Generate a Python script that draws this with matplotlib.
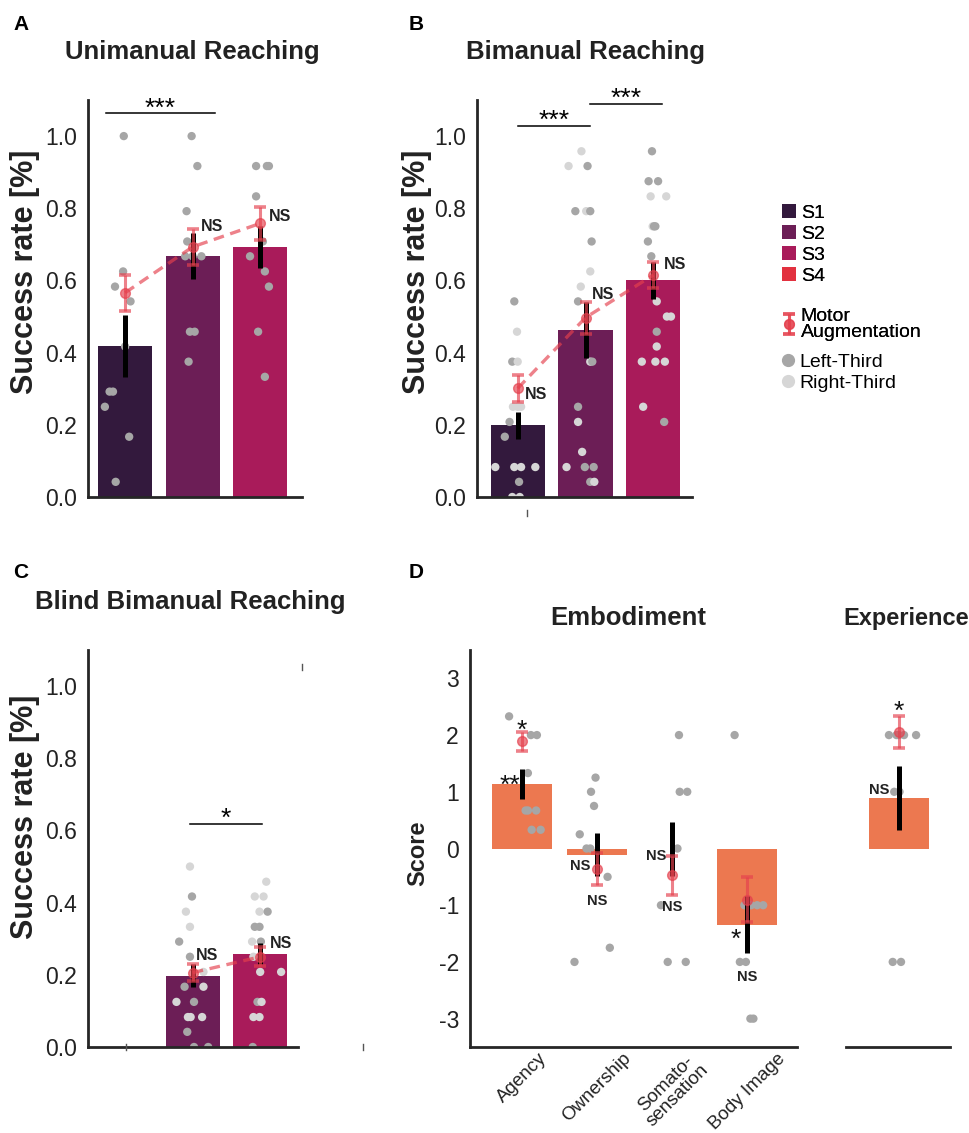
import matplotlib
matplotlib.use("Agg")
import matplotlib.pyplot as plt
from matplotlib.lines import Line2D
from matplotlib.patches import Patch
import numpy as np

plt.rcParams['font.family'] = ['Liberation Sans', 'DejaVu Sans']
plt.rcParams['axes.unicode_minus'] = False

W, H = 969, 1133

# ---- data -------------------------------------------------------------
sessions = ["S1", "S2", "S3", "S4"]
session_colors = ["#33193d", "#6c1e56", "#a91b5a", "#e2313f"]

# A: unimanual reaching (success rate per participant)
a_means = [0.418, 0.668, 0.693]
a_sems = [0.086, 0.064, 0.058]
a_ma_means = [0.566, 0.693, 0.758]
a_ma_sems = [0.050, 0.050, 0.046]
a_s1 = [1.0, 0.625, 0.583, 0.542, 0.417, 0.292, 0.292, 0.25, 0.167, 0.042]
a_s2 = [1.0, 0.917, 0.792, 0.708, 0.667, 0.667, 0.667, 0.458, 0.458, 0.375]
a_s3 = [0.917, 0.917, 0.917, 0.833, 0.708, 0.667, 0.625, 0.583, 0.458, 0.333]
a_side = ["LLLLLLLLLL", "LLLLLLLLLL", "LLLLLLLLLL"]

# B: bimanual reaching
b_means = [0.199, 0.463, 0.601]
b_sems = [0.037, 0.077, 0.051]
b_ma_means = [0.301, 0.497, 0.615]
b_ma_sems = [0.037, 0.044, 0.037]
b_s1 = [0.542, 0.458, 0.375, 0.375, 0.25, 0.25, 0.25, 0.208, 0.167,
        0.083, 0.083, 0.083, 0.083, 0.042, 0.0, 0.0]
b_s2 = [0.958, 0.917, 0.917, 0.792, 0.792, 0.792, 0.708, 0.625, 0.583, 0.542,
        0.375, 0.375, 0.25, 0.208, 0.125, 0.083, 0.083, 0.083, 0.042, 0.042]
b_s3 = [0.958, 0.875, 0.875, 0.833, 0.833, 0.75, 0.75, 0.75, 0.708, 0.667,
        0.542, 0.5, 0.5, 0.458, 0.417, 0.375, 0.375, 0.375, 0.25, 0.208]
b_side = ["LRLRRRRLLRRRRLRR", "RRLLRLLRRLRLLRRRLLLR", "LLLRRRLLLLRRRLRRRRRL"]

# C: blind bimanual reaching (no S1 data)
c_means = [0.198, 0.258]
c_sems = [0.031, 0.029]
c_ma_means = [0.206, 0.250]
c_ma_sems = [0.023, 0.026]
c_s2 = [0.5, 0.417, 0.375, 0.333, 0.292, 0.25, 0.208, 0.167, 0.167, 0.125,
        0.125, 0.083, 0.083, 0.083, 0.042, 0.0, 0.0]
c_s3 = [0.458, 0.417, 0.417, 0.375, 0.375, 0.333, 0.333, 0.292, 0.292, 0.25,
        0.208, 0.208, 0.125, 0.125, 0.083, 0.083, 0.0]
c_side = ["RLRRLLRLRRLRRRLLL", "RRRRLLLRLRRRLRRRL"]

# D: questionnaire scores
d_labels = ["Agency", "Ownership", "Somato-\nsensation", "Body Image"]
d_means = [1.138, -0.11, -0.01, -1.345]
d_sems = [0.26, 0.38, 0.47, 0.50]
d_ma_means = [1.889, -0.36, -0.475, -0.90]
d_ma_sems = [0.17, 0.28, 0.34, 0.39]
d_agency = [2.33, 2.0, 2.0, 1.33, 0.67, 0.67, 0.67, 0.33, 0.33]
d_owner = [1.25, 1.0, 0.75, 0.25, 0.0, 0.0, -0.5, -1.75, -2.0]
d_somato = [2.0, 1.0, 1.0, 0.0, -1.0, -2.0, -2.0]
d_body = [2.0, -1.0, -1.0, -1.0, -1.0, -2.0, -2.0, -3.0, -3.0]
e_mean = [0.886]
e_sem = [0.56]
e_ma_mean = [2.05]
e_ma_sem = [0.28]
e_exp = [2.0, 2.0, 2.0, 2.0, 2.0, 1.0, 1.0, -2.0, -2.0]

# ---- styling / layout ---------------------------------------------------
LEFT_C = "#a6a6a6"
RIGHT_C = "#d6d6d6"
MA_C = "#e5404d"
MA_ALPHA = 0.66
BAR_D = "#ec7850"
SPINE_C = "#262626"
STAR_SIZE = 19

# horizontal jitter of the dots
ja = [[-0.02, -0.03, -0.15, 0.08, 0.0, -0.23, -0.18, -0.30, 0.06, -0.14],
      [-0.015, 0.07, -0.09, -0.08, -0.11, 0.13, 0.0, -0.04, 0.03, -0.06],
      [-0.06, 0.13, 0.10, -0.06, 0.04, -0.15, 0.07, 0.13, -0.03, 0.07]]
jb = [[-0.05, -0.01, -0.08, 0.0, -0.07, 0.0, 0.05, -0.12, -0.19, -0.33, -0.05,
       0.05, 0.26, 0.02, -0.08, 0.03],
      [-0.06, -0.25, 0.03, -0.15, 0.01, 0.07, 0.09, 0.07, -0.07, -0.11, 0.07,
       0.1, -0.11, -0.11, -0.05, -0.28, -0.01, 0.12, 0.07, 0.13],
      [-0.02, -0.07, 0.07, -0.04, 0.19, -0.01, 0.01, 0.03, -0.08, -0.03, 0.05,
       0.2, 0.26, 0.05, 0.05, -0.17, 0.03, 0.17, -0.15, 0.16]]
jc = [[-0.04, -0.01, -0.10, -0.04, -0.20, -0.04, 0.16, -0.12, 0.16, -0.24,
       0.02, -0.07, -0.03, 0.14, -0.08, 0.02, 0.23],
      [0.09, -0.08, 0.05, -0.01, 0.11, -0.08, -0.01, -0.12, 0.01, -0.10, 0.0,
       0.31, -0.04, 0.02, -0.10, -0.01, -0.11]]
jd = [[-0.17, 0.12, 0.2, 0.08, 0.05, 0.08, 0.19, 0.13, 0.25],
      [-0.02, -0.08, -0.04, -0.23, -0.14, -0.09, 0.14, 0.17, -0.3],
      [0.09, 0.1, 0.2, 0.07, -0.15, -0.06, 0.18],
      [-0.17, -0.04, 0.05, 0.13, 0.21, -0.1, -0.02, 0.04, 0.08]]
je = [-0.13, 0.07, 0.23, 0.0, -0.03, -0.06, 0.01, -0.08, 0.03]


def fx(x):
    return x / W


def fy(y):
    return 1 - y / H


def px_axes(fig, left, top, right, bottom):
    return fig.add_axes([left / W, 1 - bottom / H, (right - left) / W, (bottom - top) / H])


def style_axes(ax, left=True, pad=8):
    for s in ["top", "right"]:
        ax.spines[s].set_visible(False)
    ax.spines["bottom"].set_linewidth(2.0)
    ax.spines["bottom"].set_color(SPINE_C)
    if left:
        ax.spines["left"].set_linewidth(2.0)
        ax.spines["left"].set_color(SPINE_C)
    else:
        ax.spines["left"].set_visible(False)
    ax.tick_params(axis="both", length=0, labelsize=16.5, pad=pad, colors="#222222")


def star_text(ax, x, y, label, ha="center"):
    # y is where the middle of the asterisk glyph should sit
    ax.annotate(label, (x, y), xytext=(0, -0.58 * STAR_SIZE), textcoords="offset points",
                ha=ha, va="baseline", fontsize=STAR_SIZE, color="#111111", zorder=7)


def draw_dots(ax, pos, vals, jit, side):
    cols = [LEFT_C if s == "L" else RIGHT_C for s in side]
    ax.scatter(pos + np.array(jit), vals, s=36, c=cols, linewidths=0, zorder=2)


def draw_ma(ax, pos, means, sems, dashed=True):
    if dashed:
        ax.plot(pos, means, ls="--", color=MA_C, alpha=MA_ALPHA, lw=2.4,
                dashes=(3.2, 2), zorder=4)
    cont = ax.errorbar(pos, means, yerr=sems, fmt="o", color=MA_C, ms=7,
                       elinewidth=2.2, capsize=4.5, capthick=2.6,
                       alpha=MA_ALPHA, zorder=5, label="Motor\nAugmentation")
    return cont


def success_panel(ax, pos, means, sems, ma_means, ma_sems, groups, sides, jitters, colors):
    pos = np.array(pos, dtype=float)
    ax.bar(pos, means, width=0.8, color=colors, zorder=1)
    for p, vals, side, jit in zip(pos, groups, sides, jitters):
        draw_dots(ax, p, vals, jit, side)
    ax.errorbar(pos, means, yerr=sems, fmt="none", ecolor="black",
                elinewidth=3.6, capsize=0, zorder=3)
    cont = draw_ma(ax, pos, ma_means, ma_sems)
    ax.set_ylim(0, 1.1)
    ax.set_yticks(np.arange(0, 1.01, 0.2))
    ax.set_yticklabels([f"{v:.1f}" for v in np.arange(0, 1.01, 0.2)])
    ax.set_xticks([])
    style_axes(ax, pad=8)
    return cont


def sig_bar(ax, x0, x1, y, label):
    ax.plot([x0, x1], [y, y], color="black", lw=1.1, zorder=6)
    ax.annotate(label, ((x0 + x1) / 2, y), xytext=(0, -1.5), textcoords="offset points",
                ha="center", va="baseline", fontsize=STAR_SIZE, zorder=6)


def ns_label(ax, x, y, label="NS", ha="left", size=11.5):
    ax.text(x, y, label, ha=ha, va="center", fontsize=size,
            fontweight="bold", color="#222222", zorder=7)


fig = plt.figure(figsize=(W / 100, H / 100), dpi=100)

# ---- A ------------------------------------------------------------------
axA = px_axes(fig, 88, 100, 302, 497)
success_panel(axA, [0, 1, 2], a_means, a_sems, a_ma_means, a_ma_sems,
              [a_s1, a_s2, a_s3], a_side, ja, session_colors[:3])
axA.set_xlim(-0.55, 2.62)
sig_bar(axA, -0.28, 1.33, 1.063, "***")
ns_label(axA, 1.12, 0.749)
ns_label(axA, 2.13, 0.776)

# ---- B ------------------------------------------------------------------
axB = px_axes(fig, 477, 100, 692, 497)
ma_handle = success_panel(axB, [0, 1, 2], b_means, b_sems, b_ma_means, b_ma_sems,
                          [b_s1, b_s2, b_s3], b_side, jb, session_colors[:3])
axB.set_xlim(-0.6, 2.57)
sig_bar(axB, 0.0, 1.07, 1.029, "***")
sig_bar(axB, 1.07, 2.13, 1.09, "***")
ns_label(axB, 0.10, 0.285)
ns_label(axB, 1.10, 0.561)
ns_label(axB, 2.15, 0.643)

# ---- C ------------------------------------------------------------------
axC = px_axes(fig, 88, 650, 298, 1047)
success_panel(axC, [1, 2], c_means, c_sems, c_ma_means, c_ma_sems,
              [c_s2, c_s3], c_side, jc, session_colors[1:3])
axC.set_xlim(-0.55, 2.56)
sig_bar(axC, 0.96, 2.03, 0.618, "*")
ns_label(axC, 1.05, 0.253)
ns_label(axC, 2.14, 0.287)

# ---- D ------------------------------------------------------------------
axD = px_axes(fig, 470, 650, 797, 1047)
dpos = np.arange(len(d_means))
axD.bar(dpos, d_means, width=0.8, color=BAR_D, zorder=1)
for p, vals, jit in zip(dpos, [d_agency, d_owner, d_somato, d_body], jd):
    draw_dots(axD, p, vals, jit, "L" * len(vals))
axD.errorbar(dpos, d_means, yerr=d_sems, fmt="none", ecolor="black",
             elinewidth=3.6, capsize=0, zorder=3)
draw_ma(axD, dpos, d_ma_means, d_ma_sems, dashed=False)
axD.set_ylim(-3.5, 3.5)
axD.set_xlim(-0.69, 3.66)
axD.set_yticks(range(-3, 4))
axD.set_xticks(dpos)
axD.set_xticklabels(d_labels, rotation=45, ha="center", fontsize=13.5)
for t in axD.get_xticklabels():
    t.set_linespacing(0.95)
style_axes(axD, pad=8)
axD.tick_params(axis="x", labelsize=13.5, pad=2)

# stars and NS marks on D (bar index, x shift, y, ha)
d_stars = [(0, 0.0, 2.22, "center", "*"),
           (0, -0.02, 1.245, "right", "**"),
           (3, -0.16, -1.47, "center", "*")]
for b, dx, y, ha, lab in d_stars:
    star_text(axD, dpos[b] + dx, y, lab, ha=ha)
d_ns = [(1, -0.09, -0.31, "right"), (1, 0.0, -0.93, "center"),
        (2, -0.08, -0.135, "right"), (2, 0.0, -1.04, "center"),
        (3, 0.0, -2.27, "center")]
for b, dx, y, ha in d_ns:
    ns_label(axD, dpos[b] + dx, y, ha=ha, size=10.5)

# ---- Experience ---------------------------------------------------------
axE = px_axes(fig, 846, 650, 950, 1047)
axE.bar([0], e_mean, width=0.8, color=BAR_D, zorder=1)
draw_dots(axE, 0, e_exp, je, "L" * len(e_exp))
axE.errorbar([0], e_mean, yerr=e_sem, fmt="none", ecolor="black",
             elinewidth=3.6, capsize=0, zorder=3)
draw_ma(axE, [0], e_ma_mean, e_ma_sem, dashed=False)
axE.set_ylim(-3.5, 3.5)
axE.set_xlim(-0.7, 0.68)
axE.set_xticks([])
axE.set_yticks([])
style_axes(axE, left=False)
star_text(axE, 0, 2.56, "*")
ns_label(axE, -0.12, 1.03, ha="right", size=10.5)

# ---- titles, labels, panel letters -------------------------------------
title_kw = dict(ha="center", va="center", fontsize=18.5, fontweight="bold", color="#222222")
fig.text(fx(192), fy(52), "Unimanual Reaching", **title_kw)
fig.text(fx(585), fy(52), "Bimanual Reaching", **title_kw)
fig.text(fx(190), fy(602), "Blind Bimanual Reaching", **title_kw)
fig.text(fx(628), fy(618), "Embodiment", **title_kw)
fig.text(fx(906), fy(618), "Experience", ha="center", va="center", fontsize=17,
         fontweight="bold", color="#222222")

ylab_kw = dict(rotation=90, ha="center", va="center", fontsize=22, fontweight="bold", color="#222222")
fig.text(fx(25), fy(272), "Success rate [%]", **ylab_kw)
fig.text(fx(417), fy(272), "Success rate [%]", **ylab_kw)
fig.text(fx(25), fy(817), "Success rate [%]", **ylab_kw)
fig.text(fx(418), fy(853), "Score", rotation=90, ha="center", va="center",
         fontsize=17, fontweight="bold", color="#222222")

letter_kw = dict(ha="center", va="center", fontsize=15, fontweight="bold")
fig.text(fx(21), fy(24), "A", **letter_kw)
fig.text(fx(416), fy(24), "B", **letter_kw)
fig.text(fx(21), fy(572), "C", **letter_kw)
fig.text(fx(416), fy(572), "D", **letter_kw)

# small stray tick marks present in the original
for (x, y0, y1) in [(527, 510, 516), (126, 1044, 1050), (363, 1044, 1050), (302, 664, 670)]:
    fig.add_artist(Line2D([fx(x), fx(x)], [fy(y0), fy(y1)], color="#555555", lw=1.0))

# ---- legend -------------------------------------------------------------
sess_handles = [Patch(facecolor=c, edgecolor="none", label=s)
                for s, c in zip(sessions, session_colors)]
leg_kw = dict(loc="upper left", frameon=False, fontsize=14, borderpad=0,
              borderaxespad=0, handletextpad=0.25)
leg1 = fig.legend(handles=sess_handles, bbox_to_anchor=(fx(782), fy(204)),
                  handlelength=0.72, handleheight=0.72, labelspacing=0.17, **leg_kw)
leg2 = fig.legend(handles=[ma_handle], labels=["Motor\nAugmentation"],
                  bbox_to_anchor=(fx(782), fy(308)), handlelength=0.72, **leg_kw)
for t in leg2.get_texts():
    t.set_linespacing(0.9)
side_handles = [Line2D([], [], ls="none", marker="o", ms=8.5, color=LEFT_C, label="Left-Third"),
                Line2D([], [], ls="none", marker="o", ms=8.5, color=RIGHT_C, label="Right-Third")]
leg3 = fig.legend(handles=side_handles, bbox_to_anchor=(fx(781), fy(353)),
                  handlelength=0.72, labelspacing=0.17, **leg_kw)
fig.add_artist(leg1)
fig.add_artist(leg2)

fig.savefig("out.png", dpi=100)
